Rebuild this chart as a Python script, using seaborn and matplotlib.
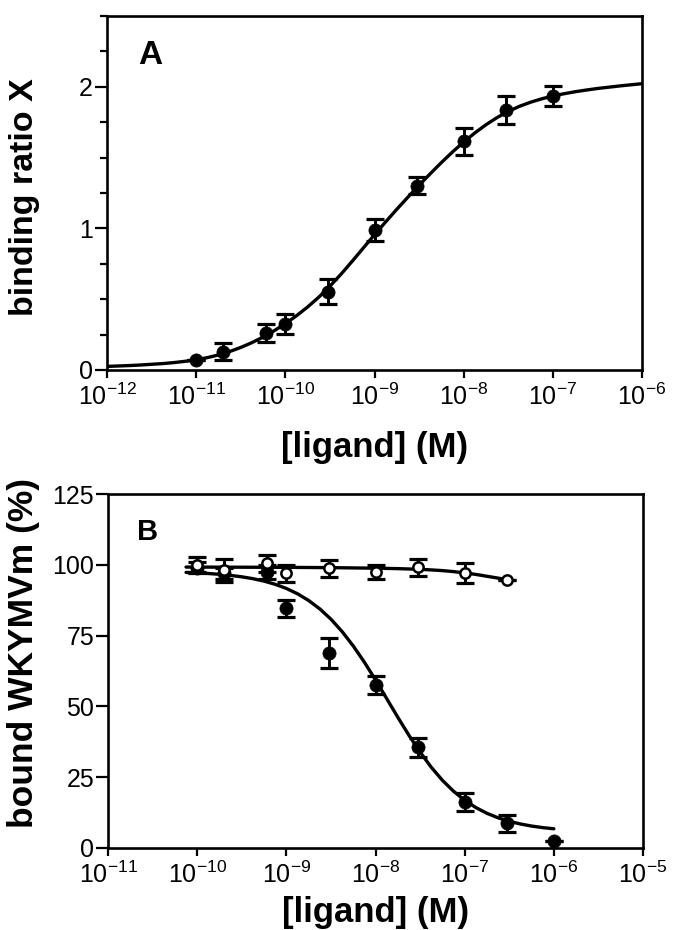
import numpy as np
import pandas as pd
import matplotlib
matplotlib.use("Agg")
import matplotlib.pyplot as plt
from matplotlib.ticker import FixedLocator, MultipleLocator
import seaborn as sns

# ---------------- Panel A data ----------------
a_conc = [1e-11, 2e-11, 6e-11, 1e-10, 3e-10, 1e-9, 3e-9, 1e-8, 3e-8, 1e-7]
a_ratio = [0.07, 0.13, 0.26, 0.325, 0.553, 0.99, 1.30, 1.614, 1.837, 1.936]
a_err = [0.0, 0.06, 0.065, 0.07, 0.09, 0.077, 0.06, 0.094, 0.10, 0.073]
# fitted curve (log10 of concentration, ratio)
a_fit_log10_conc = [-12.0, -11.875, -11.75, -11.625, -11.5, -11.375, -11.25, -11.125,
                    -11.0, -10.875, -10.75, -10.625, -10.5, -10.375, -10.25, -10.125,
                    -10.0, -9.875, -9.75, -9.625, -9.5, -9.375, -9.25, -9.125,
                    -9.0, -8.875, -8.75, -8.625, -8.5, -8.375, -8.25, -8.125,
                    -8.0, -7.875, -7.75, -7.625, -7.5, -7.375, -7.25, -7.125,
                    -7.0, -6.875, -6.75, -6.625, -6.5, -6.375, -6.25, -6.125, -6.0]
a_fit_ratio = [0.025, 0.028, 0.031, 0.035, 0.040, 0.045, 0.052, 0.061,
               0.072, 0.087, 0.106, 0.130, 0.159, 0.193, 0.232, 0.277,
               0.327, 0.383, 0.445, 0.514, 0.592, 0.677, 0.768, 0.862,
               0.955, 1.046, 1.135, 1.221, 1.305, 1.386, 1.465, 1.540,
               1.610, 1.674, 1.732, 1.783, 1.826, 1.862, 1.891, 1.915,
               1.935, 1.951, 1.965, 1.977, 1.988, 1.997, 2.006, 2.014, 2.022]
a_xticks = [1e-12, 1e-11, 1e-10, 1e-9, 1e-8, 1e-7, 1e-6]
a_xticklabels = ["-12", "-11", "-10", "-9", "-8", "-7", "-6"]

# ---------------- Panel B data ----------------
b_filled_conc = [1e-10, 2e-10, 6e-10, 1e-9, 3e-9, 1e-8, 3e-8, 1e-7, 3e-7, 1e-6]
b_filled = [99.0, 97.0, 97.5, 84.7, 68.8, 57.6, 35.5, 16.2, 8.8, 2.6]
b_filled_err = [2.0, 2.0, 2.5, 3.0, 5.3, 3.2, 3.5, 3.2, 3.0, 0.0]
b_open_conc = [1e-10, 2e-10, 6e-10, 1e-9, 3e-9, 1e-8, 3e-8, 1e-7, 3e-7]
b_open = [100.0, 98.0, 100.6, 97.0, 98.8, 97.5, 99.2, 97.0, 94.7]
b_open_err = [2.6, 4.0, 3.0, 3.0, 3.0, 2.6, 3.0, 3.6, 0.0]
b_fit_filled_log10_conc = [-10.125, -10.0, -9.875, -9.75, -9.625, -9.5, -9.375, -9.25,
                           -9.125, -9.0, -8.875, -8.75, -8.625, -8.5, -8.375, -8.25,
                           -8.125, -8.0, -7.875, -7.75, -7.625, -7.5, -7.375, -7.25,
                           -7.125, -7.0, -6.875, -6.75, -6.625, -6.5, -6.375, -6.25,
                           -6.125, -6.0]
b_fit_filled = [97.31, 97.15, 96.93, 96.64, 96.26, 95.76, 95.10, 94.24,
                93.11, 91.65, 89.77, 87.39, 84.43, 80.79, 76.43, 71.34,
                65.60, 59.33, 52.76, 46.14, 39.76, 33.82, 28.50, 23.89,
                20.02, 16.83, 14.27, 12.23, 10.65, 9.41, 8.47, 7.74,
                7.19, 6.77]
b_fit_open_log10_conc = [-10.125, -9.5, -9.0, -8.5, -8.0, -7.75, -7.5, -7.375,
                         -7.25, -7.125, -7.0, -6.875, -6.75, -6.625, -6.52]
b_fit_open = [99.2, 99.15, 99.1, 99.0, 98.8, 98.65, 98.4, 98.2,
              97.95, 97.6, 97.15, 96.6, 95.95, 95.3, 94.7]
b_xticks = [1e-11, 1e-10, 1e-9, 1e-8, 1e-7, 1e-6, 1e-5]
b_xticklabels = ["-11", "-10", "-9", "-8", "-7", "-6", "-5"]
b_yticks = [0, 25, 50, 75, 100, 125]

# ---------------- style ----------------
sns.set_theme(style="ticks")
plt.rcParams["font.family"] = ["Liberation Sans", "DejaVu Sans"]
plt.rcParams["mathtext.fontset"] = "custom"
plt.rcParams["mathtext.rm"] = "Liberation Sans"
plt.rcParams["mathtext.default"] = "regular"
for k in ["text.color", "axes.labelcolor", "xtick.color", "ytick.color",
          "axes.edgecolor"]:
    plt.rcParams[k] = "black"

TICK_FS = 18
LABEL_FS = 25
LW_SPINE = 1.9

fig = plt.figure(figsize=(6.82, 9.30), dpi=100)
axA = fig.add_axes([0.1569, 0.6022, 0.7845, 0.3806])
axB = fig.add_axes([0.1584, 0.0882, 0.7845, 0.3806])


def style_axes(ax):
    for s in ax.spines.values():
        s.set_linewidth(LW_SPINE)
        s.set_color("black")
    ax.tick_params(axis="x", which="major", direction="out", length=5.5,
                   width=1.6, colors="black", labelsize=TICK_FS, pad=4.5)
    ax.tick_params(axis="y", which="major", direction="out", length=8.5,
                   width=1.6, colors="black", labelsize=TICK_FS, pad=1.5)
    ax.tick_params(axis="y", which="minor", direction="out", length=5,
                   width=1.6, colors="black")
    ax.grid(False)
    ax.set_facecolor("white")


def draw_errbars(ax, x, y, err, z):
    ax.errorbar(x, y, yerr=err, fmt="none", ecolor="black", elinewidth=2.1,
                capsize=6.5, capthick=2.3, zorder=z)


# ---------------- Panel A ----------------
fitA = pd.DataFrame({"conc": np.power(10.0, a_fit_log10_conc), "ratio": a_fit_ratio})
sns.lineplot(data=fitA, x="conc", y="ratio", ax=axA, color="black", lw=2.4,
             estimator=None, sort=True, zorder=2)
draw_errbars(axA, a_conc, a_ratio, a_err, 3)
sns.scatterplot(x=a_conc, y=a_ratio, ax=axA, color="black", edgecolor="black",
                s=90, linewidth=0.5, zorder=4)
axA.set_xscale("log")
axA.set_xlim(1e-12, 1e-6)
axA.set_ylim(0, 2.5)
axA.xaxis.set_major_locator(FixedLocator(a_xticks))
axA.xaxis.set_minor_locator(FixedLocator([]))
axA.set_xticklabels([r"$10^{%s}$" % e for e in a_xticklabels])
axA.set_yticks([0, 1, 2])
axA.set_yticklabels(["0", "1", "2"])
axA.yaxis.set_minor_locator(MultipleLocator(0.25))
style_axes(axA)
axA.set_xlabel("[ligand] (M)", fontsize=LABEL_FS, fontweight="bold")
axA.set_ylabel("binding ratio X", fontsize=24.5, fontweight="bold")
axA.xaxis.set_label_coords(0.5, -0.172)
axA.yaxis.set_label_coords(-0.125, 0.487)
axA.text(0.058, 0.932, "A", transform=axA.transAxes, fontsize=24,
         fontweight="bold", ha="left", va="top")

# ---------------- Panel B ----------------
fitBf = pd.DataFrame({"conc": np.power(10.0, b_fit_filled_log10_conc), "pct": b_fit_filled})
fitBo = pd.DataFrame({"conc": np.power(10.0, b_fit_open_log10_conc), "pct": b_fit_open})
sns.lineplot(data=fitBf, x="conc", y="pct", ax=axB, color="black", lw=2.4,
             estimator=None, sort=True, zorder=2)
sns.lineplot(data=fitBo, x="conc", y="pct", ax=axB, color="black", lw=2.4,
             estimator=None, sort=True, zorder=2)
draw_errbars(axB, b_filled_conc, b_filled, b_filled_err, 3)
sns.scatterplot(x=b_filled_conc, y=b_filled, ax=axB, color="black",
                edgecolor="black", s=90, linewidth=0.5, zorder=4)
draw_errbars(axB, b_open_conc, b_open, b_open_err, 5)
sns.scatterplot(x=b_open_conc, y=b_open, ax=axB, color="white",
                edgecolor="black", s=55, linewidth=1.8, zorder=6)
axB.set_xscale("log")
axB.set_xlim(1e-11, 1e-5)
axB.set_ylim(0, 125)
axB.xaxis.set_major_locator(FixedLocator(b_xticks))
axB.xaxis.set_minor_locator(FixedLocator([]))
axB.set_xticklabels([r"$10^{%s}$" % e for e in b_xticklabels])
axB.set_yticks(b_yticks)
axB.set_yticklabels([str(v) for v in b_yticks])
style_axes(axB)
axB.set_xlabel("[ligand] (M)", fontsize=LABEL_FS, fontweight="bold")
axB.set_ylabel("bound WKYMVm (%)", fontsize=25.5, fontweight="bold")
axB.xaxis.set_label_coords(0.5, -0.135)
axB.yaxis.set_label_coords(-0.127, 0.552)
axB.text(0.054, 0.932, "B", transform=axB.transAxes, fontsize=21,
         fontweight="bold", ha="left", va="top")

fig.savefig("out.png", dpi=100, facecolor="white")
